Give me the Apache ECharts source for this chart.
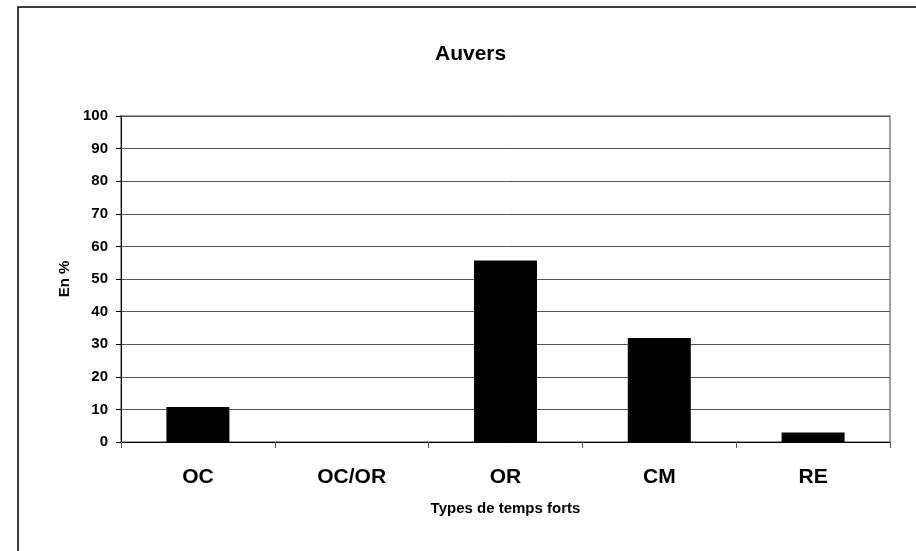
<!DOCTYPE html>
<html><head><meta charset="utf-8">
<script src="https://cdn.jsdelivr.net/npm/echarts@6/dist/echarts.min.js"></script>
<style>html,body{margin:0;padding:0;background:#fff}#c{width:916px;height:551px}</style>
</head><body><div id="c"></div>
<script>
const categories = ['OC', 'OC/OR', 'OR', 'CM', 'RE'];
const values = [10.7, 0, 55.7, 31.9, 2.9];
const yTicks = [0, 10, 20, 30, 40, 50, 60, 70, 80, 90, 100];
const titleText = 'Auvers';
const xName = 'Types de temps forts';
const yName = 'En %';

const FF = "'Liberation Sans', Arial, sans-serif";
const chart = echarts.init(document.getElementById('c'), null, {renderer: 'canvas'});
chart.setOption({
  animation: false,
  backgroundColor: '#fff',
  title: {
    text: titleText, left: 430, top: 39,
    textStyle: {fontFamily: FF, fontSize: 21, fontWeight: 'bold', color: '#000'}
  },
  graphic: [{
    type: 'rect', silent: true, z: -1,
    shape: {x: 18, y: 7, width: 1000, height: 1000},
    style: {fill: 'none', stroke: '#000', lineWidth: 1.5}
  }],
  grid: {left: 121, top: 116, right: 26, bottom: 109, show: true, borderColor: '#808080', borderWidth: 1.5, backgroundColor: 'transparent'},
  xAxis: {
    type: 'category', data: categories,
    name: xName, nameLocation: 'middle', nameGap: 59,
    nameTextStyle: {fontFamily: FF, fontSize: 15, fontWeight: 'bold', color: '#000'},
    axisLine: {lineStyle: {color: '#000', width: 1}},
    axisTick: {show: true, alignWithLabel: false, length: 6, lineStyle: {color: '#555'}},
    axisLabel: {fontFamily: FF, fontSize: 21, fontWeight: 'bold', color: '#000', margin: 25}
  },
  yAxis: {
    type: 'value', min: yTicks[0], max: yTicks[yTicks.length - 1], interval: 10,
    name: yName, nameLocation: 'middle', nameGap: 46, nameRotate: 90,
    nameTextStyle: {fontFamily: FF, fontSize: 15, fontWeight: 'bold', color: '#000'},
    axisLine: {show: true, lineStyle: {color: '#000', width: 1}},
    axisTick: {show: true, length: 5, lineStyle: {color: '#000'}},
    axisLabel: {fontFamily: FF, fontSize: 15, fontWeight: 'bold', color: '#000', margin: 13},
    splitLine: {show: true, lineStyle: {color: '#555', width: 1}}
  },
  series: [{
    type: 'bar', data: values, barWidth: 63,
    itemStyle: {color: '#000', borderWidth: 0}
  }]
});
</script></body></html>
